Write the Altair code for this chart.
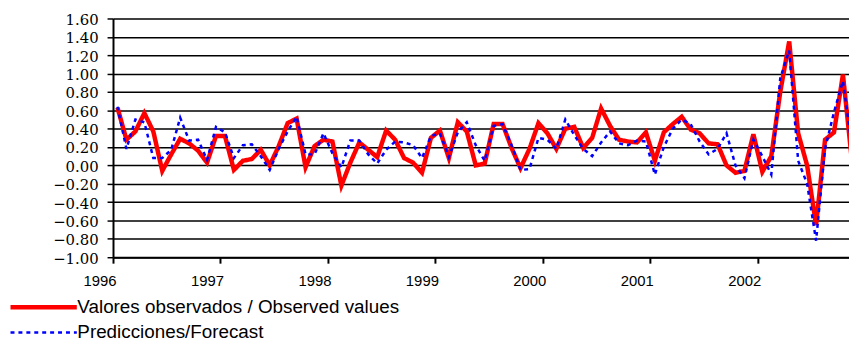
import altair as alt
import pandas as pd

# ---- data (monthly, Jan 1996 onward) ----
start_year = 1996
observed = [0.63, 0.28, 0.37, 0.57, 0.37, -0.06, 0.12, 0.29, 0.24, 0.16, 0.03, 0.32,
            0.32, -0.05, 0.05, 0.07, 0.17, 0.00, 0.21, 0.46, 0.51, -0.02, 0.21, 0.28,
            0.26, -0.22, 0.03, 0.25, 0.17, 0.09, 0.38, 0.28, 0.08, 0.03, -0.08, 0.30,
            0.38, 0.08, 0.47, 0.37, 0.00, 0.02, 0.45, 0.45, 0.19, -0.03, 0.18, 0.46,
            0.35, 0.18, 0.40, 0.42, 0.19, 0.30, 0.62, 0.43, 0.28, 0.26, 0.25, 0.36,
            0.05, 0.36, 0.45, 0.53, 0.39, 0.35, 0.24, 0.23, 0.00, -0.08, -0.06, 0.34,
            -0.07, 0.10, 0.80, 1.35, 0.35, 0.00, -0.65, 0.28, 0.36, 0.99, 0.05]
forecast = [0.64, 0.18, 0.50, 0.47, 0.08, 0.08, 0.17, 0.52, 0.27, 0.28, 0.06, 0.42,
            0.36, 0.08, 0.22, 0.23, 0.10, -0.05, 0.18, 0.37, 0.53, 0.12, 0.12, 0.35,
            0.13, -0.02, 0.27, 0.27, 0.12, 0.02, 0.17, 0.26, 0.25, 0.22, 0.08, 0.32,
            0.35, 0.09, 0.36, 0.47, 0.22, 0.05, 0.43, 0.45, 0.22, -0.05, -0.04, 0.30,
            0.28, 0.18, 0.50, 0.33, 0.18, 0.10, 0.25, 0.37, 0.24, 0.22, 0.27, 0.26,
            -0.10, 0.20, 0.40, 0.50, 0.45, 0.26, 0.12, 0.18, 0.35, 0.00, -0.14, 0.28,
            0.10, -0.10, 0.95, 1.25, 0.05, -0.20, -0.82, 0.18, 0.58, 0.92, 0.20]
series_names = ["Valores observados / Observed values", "Predicciones/Forecast"]
series_colors = ["#ff0000", "#0000ff"]
y_ticks = [-1.0, -0.8, -0.6, -0.4, -0.2, 0.0, 0.2, 0.4, 0.6, 0.8, 1.0, 1.2, 1.4, 1.6]
x_ticks = [1996, 1997, 1998, 1999, 2000, 2001, 2002]

n = len(observed)
t = [start_year + (i + 0.5) / 12 for i in range(n)]
df = pd.DataFrame({
    "t": t + t,
    "v": observed + forecast,
    "series": [series_names[0]] * n + [series_names[1]] * n,
})

x_enc = alt.X("t:Q",
              scale=alt.Scale(domain=[1996, 2002.848], nice=False, zero=False),
              axis=alt.Axis(values=x_ticks, format="d", grid=False,
                            labelAlign="right", labelFlush=False, labelOffset=3,
                            labelFont="Liberation Sans", labelFontSize=15,
                            labelColor="black", labelPadding=11,
                            tickSize=6, tickColor="black", tickWidth=2,
                            domainColor="black", domainWidth=2),
              title=None)
y_enc = alt.Y("v:Q",
              scale=alt.Scale(domain=[-1.0, 1.6], nice=False, zero=False),
              axis=alt.Axis(values=y_ticks, format=".2f", grid=True,
                            gridColor="black", gridWidth=1.5, gridOpacity=1,
                            labelFont="DejaVu Serif", labelFontSize=15,
                            labelColor="black", labelPadding=9, labelOffset=1,
                            tickSize=6, tickColor="black", tickWidth=1.5,
                            domainColor="black", domainWidth=2),
              title=None)

# long horizontal stroke symbol (custom path, 8 units long -> ~67 px)
leg = alt.Legend(title=None, orient="none", legendX=-81, legendY=280.5,
                 direction="vertical", symbolType="M-4,0H4", symbolSize=280,
                 labelFont="Liberation Sans", labelFontSize=19, labelColor="black",
                 labelLimit=800, labelOffset=23, rowPadding=5.5, padding=0)

color_enc = alt.Color("series:N", scale=alt.Scale(domain=series_names, range=series_colors), legend=leg)
dash_enc = alt.StrokeDash("series:N", scale=alt.Scale(domain=series_names, range=[[1, 0], [4, 4]]), legend=leg)
width_enc = alt.StrokeWidth("series:N", scale=alt.Scale(domain=series_names, range=[4.5, 2.5]), legend=leg)

base = alt.Chart(df).encode(x=x_enc, y=y_enc, color=color_enc,
                            strokeDash=dash_enc, strokeWidth=width_enc)

obs_layer = base.transform_filter(alt.datum.series == series_names[0]).mark_line(clip=True)
fc_layer = base.transform_filter(alt.datum.series == series_names[1]).mark_line(clip=True)

chart = alt.layer(obs_layer, fc_layer).properties(
    width=743, height=241,
    autosize=alt.AutoSizeParams(type="none"),
    padding={"left": 106, "top": 9, "right": 0, "bottom": 84},
    background="white",
).configure_view(strokeOpacity=0)

chart.save("out.html", embed_options={"renderer": "svg", "actions": False})
